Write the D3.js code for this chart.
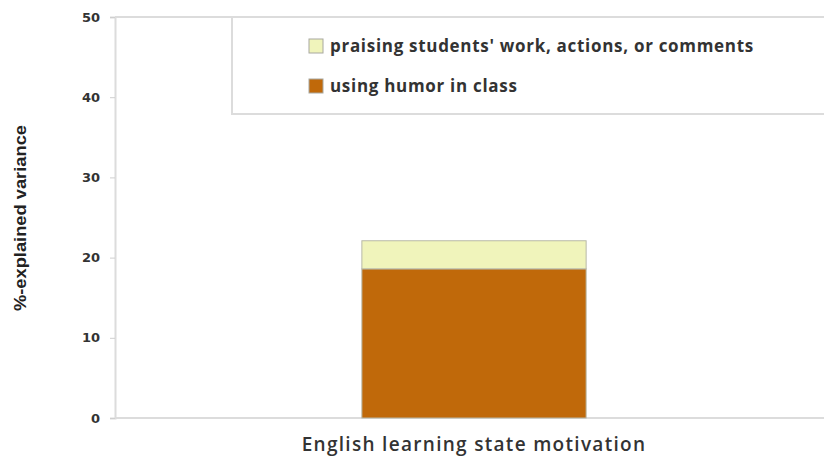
<!DOCTYPE html>
<html>
<head>
<meta charset="utf-8">
<script src="https://cdn.jsdelivr.net/npm/d3@7"></script>
<style>
  body { margin: 0; background: #fff; }
  svg { display: block; }
</style>
</head>
<body>
<svg id="chart" width="824" height="458"></svg>
<script>
// chart data
let categories = ["English learning state motivation"];
let seriesNames = ["using humor in class", "praising students' work, actions, or comments"];
let humorValues = [18.6];
let praiseValues = [3.5];
let yTicks = [0, 10, 20, 30, 40, 50];
let seriesColours = ["#c0690a", "#f0f4bb"];

let svg = d3.select("#chart"),
    plotLeft = 115, plotRight = 824, plotTop = 17, plotBottom = 418;

// band centred under the x label
let x = d3.scaleBand()
          .domain(categories)
          .range([plotLeft, 833])
          .padding(0.524);

let y = d3.scaleLinear()
          .domain([0, 50])
          .range([plotBottom, plotTop]);

// stacked data
let rows = categories.map(function(c, i){
    return {cat: c, humor: humorValues[i], praise: praiseValues[i]};
});
let stack = d3.stack().keys(["humor", "praise"]);
let layers = stack(rows);

// plot frame
svg.append("line")
   .attr("x1", plotLeft).attr("x2", plotRight)
   .attr("y1", y(50)).attr("y2", y(50))
   .attr("stroke", "#dcdcdc").attr("stroke-width", 2);
svg.append("line")
   .attr("x1", plotLeft).attr("x2", plotRight)
   .attr("y1", y(0)).attr("y2", y(0))
   .attr("stroke", "#dcdcdc").attr("stroke-width", 2);

// y axis
let yAxis = d3.axisLeft(y).tickValues(yTicks).tickSize(5).tickPadding(10);
let ga = svg.append("g")
   .attr("transform", `translate(${plotLeft},0)`)
   .call(yAxis);
ga.select(".domain").attr("stroke", "#dcdcdc").attr("stroke-width", 2);
ga.selectAll(".tick line").attr("stroke", "#cfcfcf");
ga.selectAll(".tick text")
  .attr("fill", "#333")
  .style("font-family", "'DejaVu Sans', sans-serif")
  .style("font-weight", "bold")
  .style("font-size", "13px");

// bars
svg.append("g").selectAll("g")
   .data(layers)
   .enter()
   .append("g")
   .attr("fill", function(d, i){ return seriesColours[i]; })
   .selectAll("rect")
   .data(function(d){ return d; })
   .enter()
   .append("rect")
   .attr("x", function(d){ return x(d.data.cat); })
   .attr("width", x.bandwidth())
   .attr("y", function(d){ return y(d[1]); })
   .attr("height", function(d){ return y(d[0]) - y(d[1]); })
   .attr("stroke", "#b8b8a8")
   .attr("stroke-width", 1);

// legend box
svg.append("path")
   .attr("d", `M${232},${y(50)} V${114} H${plotRight}`)
   .attr("fill", "none")
   .attr("stroke", "#dcdcdc")
   .attr("stroke-width", 2);

let legendItems = [
    {name: seriesNames[1], colour: seriesColours[1], ty: 46},
    {name: seriesNames[0], colour: seriesColours[0], ty: 86}
];
let lg = svg.append("g").selectAll("g")
   .data(legendItems)
   .enter()
   .append("g");
lg.append("rect")
  .attr("x", 309).attr("y", function(d){ return d.ty - 7; })
  .attr("width", 14).attr("height", 14)
  .attr("fill", function(d){ return d.colour; })
  .attr("stroke", "#a8a8a0");
lg.append("text")
  .attr("x", 330).attr("y", function(d){ return d.ty; })
  .attr("dy", "0.35em")
  .text(function(d){ return d.name; })
  .attr("fill", "#333")
  .style("font-family", "'Open Sans', sans-serif")
  .style("font-weight", "bold")
  .style("font-size", "17px")
  .style("letter-spacing", "0.7px");

// x axis label
svg.append("text")
   .attr("x", x(categories[0]) + x.bandwidth() / 2).attr("y", 444)
   .attr("dy", "0.35em")
   .style("text-anchor", "middle")
   .text(categories[0])
   .attr("fill", "#333")
   .style("font-family", "'Open Sans', sans-serif")
   .style("font-weight", "600")
   .style("font-size", "19px")
   .style("letter-spacing", "1.3px");

// y axis label
svg.append("text")
   .attr("transform", "translate(20,218) rotate(-90)")
   .attr("dy", "0.35em")
   .style("text-anchor", "middle")
   .attr("textLength", 186)
   .attr("lengthAdjust", "spacingAndGlyphs")
   .text("%-explained variance")
   .attr("fill", "#222")
   .style("font-family", "'Liberation Sans', sans-serif")
   .style("font-weight", "bold")
   .style("font-size", "17px");
</script>
</body>
</html>
